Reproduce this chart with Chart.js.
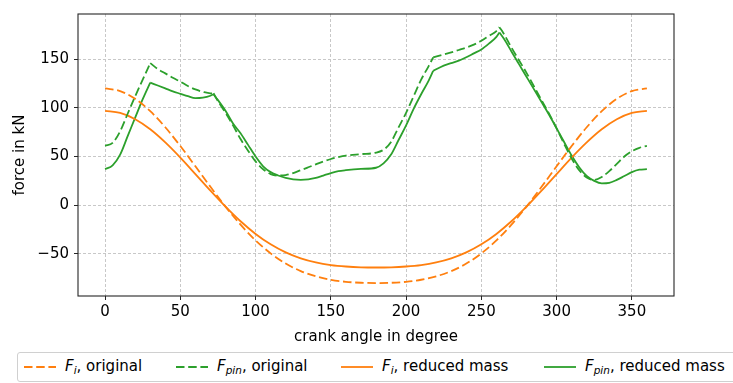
<!DOCTYPE html>
<html lang="en">
<head>
<meta charset="UTF-8">
<title>Crank forces</title>
<script src="https://cdn.jsdelivr.net/npm/chart.js"></script>
<style>
  body { margin: 0; background: #fff; font-family: "DejaVu Sans", sans-serif; }
  #wrap { position: relative; width: 733px; height: 383px; overflow: hidden; }
  #legend {
    position: absolute; left: 17px; top: 352px; width: 730px; height: 30px;
    border: 1px solid #d0d0d0; border-radius: 3px; box-sizing: border-box;
    font-size: 15px; color: #000; background: #fff;
  }
  .item { position: absolute; top: 0; height: 28px; width: 200px; white-space: nowrap; }
  .item svg { position: absolute; left: 0; top: 12px; }
  .item span { position: absolute; left: 41px; top: 4px; line-height: 18px; }
  .item i { font-style: italic; }
  .item sub { font-size: 10.5px; vertical-align: -3px; line-height: 0; }
</style>
</head>
<body>
<div id="wrap">
  <canvas id="forceChart" width="733" height="383"></canvas>
  <div id="legend">
    <div class="item" style="left:6px">
      <svg width="32" height="4"><line x1="0" y1="2" x2="32" y2="2" stroke="#ff7f0e" stroke-width="1.8" stroke-dasharray="8.5 3.7"/></svg>
      <span><i>F<sub>i</sub></i>, original</span>
    </div>
    <div class="item" style="left:158px">
      <svg width="32" height="4"><line x1="0" y1="2" x2="32" y2="2" stroke="#2ca02c" stroke-width="1.8" stroke-dasharray="8.5 3.7"/></svg>
      <span><i>F<sub>pin</sub></i>, original</span>
    </div>
    <div class="item" style="left:323px">
      <svg width="32" height="4"><line x1="0" y1="2" x2="32" y2="2" stroke="#ff7f0e" stroke-width="1.8"/></svg>
      <span><i>F<sub>i</sub></i>, reduced mass</span>
    </div>
    <div class="item" style="left:526px">
      <svg width="32" height="4"><line x1="0" y1="2" x2="32" y2="2" stroke="#2ca02c" stroke-width="1.8"/></svg>
      <span><i>F<sub>pin</sub></i>, reduced mass</span>
    </div>
  </div>
</div>

<script>
  // inertia force, sampled every 10 degrees
  const angles = [0, 10, 20, 30, 40, 50, 60, 70, 80, 90, 100, 110, 120, 130, 140, 150, 160, 170, 180,
                  190, 200, 210, 220, 230, 240, 250, 260, 270, 280, 290, 300, 310, 320, 330, 340, 350, 360];
  const fiOriginal = [120, 117.3, 109.3, 96.6, 80.1, 60.8, 40, 18.9, -1.4, -20, -36.2, -49.5, -60, -67.7, -73.1, -76.6, -78.7, -79.7, -80,
                      -79.7, -78.7, -76.6, -73.1, -67.7, -60, -49.5, -36.2, -20, -1.4, 18.9, 40, 60.8, 80.1, 96.6, 109.3, 117.3, 120];
  const fiReduced = [97, 94.8, 88.3, 78, 64.5, 48.9, 32, 14.9, -1.5, -16.5, -29.5, -40.2, -48.5, -54.6, -58.8, -61.5, -63, -63.8, -64,
                     -63.8, -63, -61.5, -58.8, -54.6, -48.5, -40.2, -29.5, -16.5, -1.5, 14.9, 32, 48.9, 64.5, 78, 88.3, 94.8, 97];

  // pin force, denser sampling; kinks at 30, 72, 218 and 262 degrees
  const pinAngles = [0, 5, 10, 15, 20, 25, 30, 35, 40, 45, 50, 55, 60, 65, 70, 72, 75, 80, 85, 90, 95, 100, 105, 110, 115,
                     120, 125, 130, 135, 140, 145, 150, 155, 160, 170, 180, 185, 190, 195, 200, 205, 210, 215, 218,
                     225, 230, 235, 240, 245, 250, 255, 260, 262, 265, 270, 275, 280, 285, 290, 295, 300, 305, 310,
                     315, 320, 325, 330, 335, 340, 345, 350, 355, 360];
  const pinOriginal = [61, 64, 76, 94, 112, 129, 146, 140, 135.5, 131, 127, 122.5, 119, 116.5, 115, 115, 107, 95, 82, 68, 56, 45, 37, 32, 30.5,
                       31, 33, 36, 39, 42, 45, 47.5, 49.5, 51, 52.5, 54, 57, 65, 80, 95, 112, 129, 143, 152,
                       155, 157, 159.5, 162, 165, 169, 174, 179, 183, 176, 162, 149, 136, 122, 108, 94, 79, 63, 48,
                       36, 28.5, 26, 29, 35, 42.5, 50, 55.5, 59, 61];
  const pinReduced = [37, 41, 52, 71, 90, 109, 126, 123, 120, 117, 114.5, 112, 110, 110.5, 112.5, 114, 108, 97, 84, 74, 62, 50, 40, 34, 30.5,
                      28, 26.5, 26, 26.5, 28, 30.5, 33, 35, 36, 37.3, 38.5, 43, 52, 67, 82, 99, 114, 128, 138,
                      143.5, 146, 148.5, 152, 156, 160, 166, 173, 177.5, 171, 158, 145, 132, 119, 106, 93, 79, 65, 51,
                      39, 30, 25, 22.5, 23, 26, 30, 34, 36.5, 37];
  const pinKinks = [30, 72, 218, 262];

  const xTicks = [0, 50, 100, 150, 200, 250, 300, 350];
  const yTicks = [-50, 0, 50, 100, 150];

  const ORANGE = '#ff7f0e';
  const GREEN = '#2ca02c';
  const DASH = [8.5, 3.7];
  const font = { family: 'DejaVu Sans', size: 15 };

  function points(xs, ys) {
    return xs.map((x, i) => ({ x: x, y: ys[i] }));
  }

  // cut a curve at its kinks so each smooth piece is interpolated on its own
  function pieces(xs, ys, cuts) {
    const out = [[]];
    xs.forEach((x, i) => {
      out[out.length - 1].push({ x: x, y: ys[i] });
      if (cuts.includes(x)) out.push([{ x: x, y: ys[i] }]);
    });
    return out;
  }

  function pinSets(ys, dash) {
    return pieces(pinAngles, ys, pinKinks).map(p => ({
      data: p, borderColor: GREEN, borderDash: dash, cubicInterpolationMode: 'monotone'
    }));
  }

  // box around the plotting area
  const frame = {
    id: 'frame',
    afterDraw(chart) {
      const { ctx, chartArea: a } = chart;
      ctx.save();
      ctx.strokeStyle = '#262626';
      ctx.lineWidth = 1.1;
      ctx.strokeRect(a.left, a.top, a.right - a.left, a.bottom - a.top);
      ctx.restore();
    }
  };

  new Chart(document.getElementById('forceChart'), {
    type: 'line',
    data: {
      datasets: [
        { data: points(angles, fiOriginal), borderColor: ORANGE, borderDash: DASH, cubicInterpolationMode: 'monotone' },
        ...pinSets(pinOriginal, DASH),
        { data: points(angles, fiReduced), borderColor: ORANGE, cubicInterpolationMode: 'monotone' },
        ...pinSets(pinReduced, [])
      ]
    },
    options: {
      responsive: false,
      animation: false,
      elements: { point: { radius: 0 }, line: { borderWidth: 1.8 } },
      layout: { padding: { left: 7, top: 8, right: 59, bottom: 33 } },
      plugins: { legend: { display: false }, tooltip: { enabled: false } },
      scales: {
        x: {
          type: 'linear', min: -18, max: 378,
          afterBuildTicks: s => { s.ticks = xTicks.map(v => ({ value: v })); },
          afterFit: s => { s.height = 54; },
          grid: { color: '#c8c8c8', tickColor: '#262626', tickLength: 4, tickWidth: 1, tickBorderDash: [1, 0] },
          border: { display: false, dash: [3, 2] },
          ticks: { color: '#000', font: font, padding: 3, maxRotation: 0 },
          title: { display: true, text: 'crank angle in degree', color: '#000', font: font, padding: { top: 4, bottom: 4 } }
        },
        y: {
          min: -93.3, max: 196.5,
          afterBuildTicks: s => { s.ticks = yTicks.map(v => ({ value: v })); },
          afterFit: s => { s.width = 71; },
          grid: { color: '#c8c8c8', tickColor: '#262626', tickLength: 4, tickWidth: 1, tickBorderDash: [1, 0] },
          border: { display: false, dash: [3, 2] },
          ticks: { color: '#000', font: font, padding: 5, callback: v => v < 0 ? '\u2212' + Math.abs(v) : String(v) },
          title: { display: true, text: 'force in kN', color: '#000', font: font, padding: { top: 4, bottom: 4 } }
        }
      }
    },
    plugins: [frame]
  });
</script>
</body>
</html>
